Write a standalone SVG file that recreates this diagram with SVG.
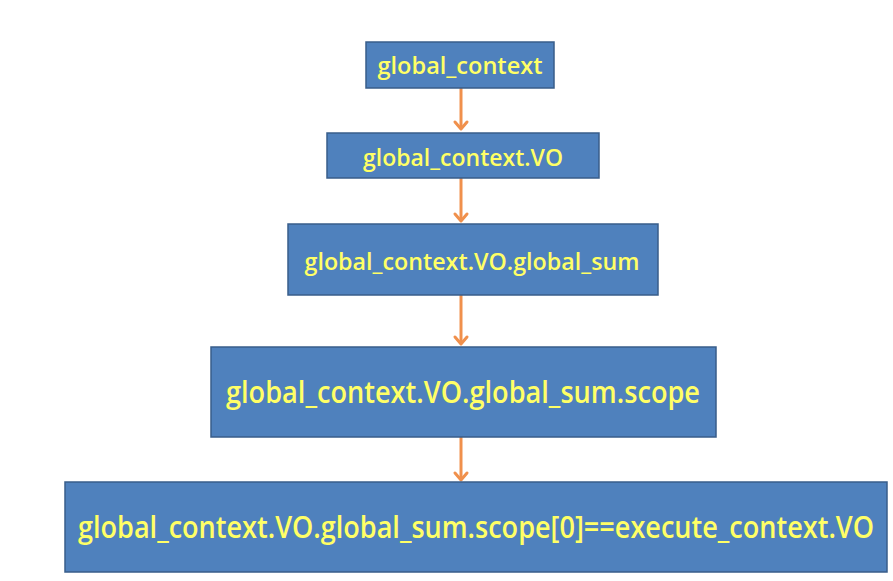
<svg xmlns="http://www.w3.org/2000/svg" width="893" height="581" viewBox="0 0 893 581">
<style>
.box{fill:#4F81BD;stroke:#385D8A;stroke-width:1.5}
.t{font-family:"Open Sans","Lato","Liberation Sans",sans-serif;font-weight:600;fill:#FFFF66;text-anchor:middle}
.c{stroke:#F0904C;stroke-width:3;fill:none}
.h{stroke:#F0904C;stroke-width:3;fill:none;stroke-linecap:round;stroke-linejoin:round}
</style>
<rect width="893" height="581" fill="#fff"/>
<g id="connectors">
<line class="c" x1="461" y1="88" x2="461" y2="129"/><polyline class="h" points="455,122 461,129 467,122"/>
<line class="c" x1="461" y1="178" x2="461" y2="221"/><polyline class="h" points="455,214 461,221 467,214"/>
<line class="c" x1="461" y1="295" x2="461" y2="344"/><polyline class="h" points="455,337 461,344 467,337"/>
<line class="c" x1="461" y1="433" x2="461" y2="480"/><polyline class="h" points="455,473 461,480 467,473"/>
</g>
<g id="n1"><rect class="box" x="366" y="42" width="188" height="46"/><text class="t" x="460" y="74" font-size="23" textLength="165" lengthAdjust="spacingAndGlyphs">global_context</text></g>
<g id="n2"><rect class="box" x="327" y="133" width="272" height="45"/><text class="t" x="463" y="166" font-size="23" textLength="200" lengthAdjust="spacingAndGlyphs">global_context.VO</text></g>
<g id="n3"><rect class="box" x="288" y="224" width="370" height="71"/><text class="t" x="472" y="270" font-size="23" textLength="335" lengthAdjust="spacingAndGlyphs">global_context.VO.global_sum</text></g>
<g id="n4"><rect class="box" x="211" y="347" width="505" height="90"/><text class="t" x="463" y="403" font-size="30" textLength="474" lengthAdjust="spacingAndGlyphs">global_context.VO.global_sum.scope</text></g>
<g id="n5"><rect class="box" x="65" y="482" width="822" height="90"/><text class="t" x="476" y="538" font-size="30" textLength="796" lengthAdjust="spacingAndGlyphs">global_context.VO.global_sum.scope[0]==execute_context.VO</text></g>
</svg>
